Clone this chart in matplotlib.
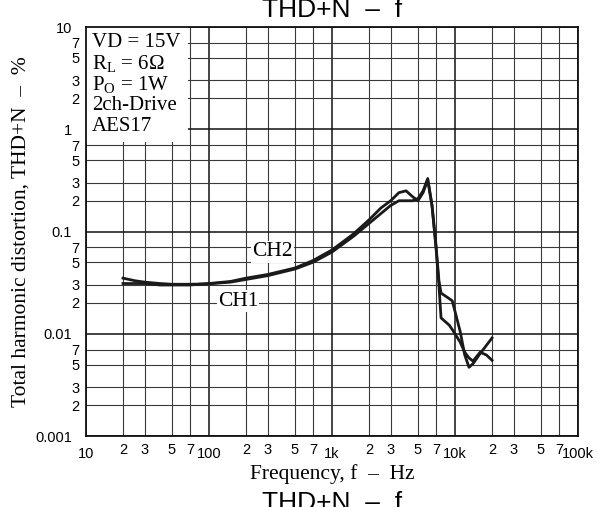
import matplotlib
matplotlib.use('Agg')
import matplotlib.pyplot as plt
from matplotlib.ticker import FixedLocator, FixedFormatter
from matplotlib.patches import Rectangle

plt.rcParams['mathtext.fontset'] = 'custom'
plt.rcParams['mathtext.rm'] = 'Liberation Serif'
plt.rcParams['mathtext.it'] = 'Liberation Serif:italic'

# data
freq = [20, 25, 30, 40, 50, 70, 100, 150, 200, 300, 500, 700, 1000, 1500, 2000,
        2500, 3000, 3500, 4000, 4500, 5000, 5500, 6000, 6500, 7000, 7400, 7700,
        9000, 9500, 11000, 12000, 13000, 14000, 16000, 18000, 20000]
ch1 = [0.035, 0.033, 0.032, 0.031, 0.0305, 0.0305, 0.0308, 0.032, 0.034, 0.037,
       0.043, 0.05, 0.063, 0.09, 0.12, 0.15, 0.18, 0.2, 0.2, 0.2, 0.21, 0.25,
       0.33, 0.18, 0.074, 0.033, 0.025, 0.022, 0.021, 0.0106, 0.0062, 0.0047,
       0.0051, 0.0064, 0.0077, 0.0091]
ch2 = [0.031, 0.031, 0.031, 0.030, 0.030, 0.030, 0.031, 0.0325, 0.035, 0.038,
       0.044, 0.052, 0.066, 0.095, 0.13, 0.17, 0.2, 0.24, 0.25, 0.22, 0.2, 0.24,
       0.32, 0.18, 0.07, 0.03, 0.0143, 0.0121, 0.011, 0.0083, 0.0066, 0.0058,
       0.0054, 0.0066, 0.0062, 0.0055]

x_major = [10, 100, 1000, 10000, 100000]
x_major_labels = ['10', '100', '1k', '10k', '100k']
x_minor = [m * d for d in [10, 100, 1000, 10000] for m in (2, 3, 5, 7)]
x_minor_labels = ['2', '3', '5', '7'] * 4
y_major = [0.001, 0.01, 0.1, 1, 10]
y_major_labels = ['0.001', '0.01', '0.1', '1', '10']
y_minor = [m * d for d in [0.001, 0.01, 0.1, 1] for m in (2, 3, 5, 7)]
y_minor_labels = ['2', '3', '5', '7'] * 4

conditions = ['VD = 15V', r'R$_\mathrm{L}$ = 6Ω', r'P$_\mathrm{O}$ = 1W',
              '2ch-Drive', 'AES17']

sans = 'Liberation Sans'
serif = 'Liberation Serif'

fig = plt.figure(figsize=(6.08, 5.07), dpi=100)
ax = fig.add_axes([0.1414, 0.140, 0.8093, 0.8067])
ax.set_xscale('log')
ax.set_yscale('log')
ax.set_xlim(10, 100000)
ax.set_ylim(0.001, 10)

ax.xaxis.set_major_locator(FixedLocator(x_major))
ax.xaxis.set_major_formatter(FixedFormatter(x_major_labels))
ax.xaxis.set_minor_locator(FixedLocator(x_minor))
ax.xaxis.set_minor_formatter(FixedFormatter(x_minor_labels))
ax.yaxis.set_major_locator(FixedLocator(y_major))
ax.yaxis.set_major_formatter(FixedFormatter(y_major_labels))
ax.yaxis.set_minor_locator(FixedLocator(y_minor))
ax.yaxis.set_minor_formatter(FixedFormatter(y_minor_labels))

ax.tick_params(which='both', length=0, labelsize=10.5)
ax.tick_params(axis='x', which='major', pad=8)
ax.tick_params(axis='x', which='minor', pad=5)
ax.tick_params(axis='y', which='major', pad=10)
ax.tick_params(axis='y', which='minor', pad=4.5)
for lab in ax.get_xticklabels(which='both') + ax.get_yticklabels(which='both'):
    lab.set_family(sans)

ax.grid(which='major', color='#111111', lw=1.1)
ax.grid(which='minor', color='#3a3a3a', lw=0.8)
for s in ax.spines.values():
    s.set_linewidth(1.3)
    s.set_color('#111111')
    s.set_zorder(5)

# white box for the test conditions
ax.add_patch(Rectangle((0, 0.719), 0.207, 0.281, transform=ax.transAxes,
                       facecolor='white', edgecolor='none', zorder=2))
for i, t in enumerate(conditions):
    ax.text(0.012, 0.961 - i * 0.0513, t, transform=ax.transAxes, family=serif,
            fontsize=15, va='center', ha='left', zorder=3)

ax.plot(freq, ch1, color='#1a1a1a', lw=2.0, zorder=4)
ax.plot(freq, ch2, color='#1a1a1a', lw=2.0, zorder=4)

ax.text(0.379, 0.45, 'CH2', transform=ax.transAxes, family=serif, fontsize=15.5,
        ha='center', va='center', zorder=3,
        bbox=dict(facecolor='white', edgecolor='none', pad=1))
ax.text(0.309, 0.33, 'CH1', transform=ax.transAxes, family=serif, fontsize=15.5,
        ha='center', va='center', zorder=3,
        bbox=dict(facecolor='white', edgecolor='none', pad=1))

ax.set_xlabel('Frequency, f  –  Hz', family=serif, fontsize=15.5, labelpad=2)
ax.set_ylabel('Total harmonic distortion, THD+N  –  %', family=serif,
              fontsize=15.5, labelpad=3)

fig.text(0.546, 1 - 17 / 507, 'THD+N  –  f', family=sans, fontsize=19,
         ha='center', va='baseline')
fig.text(0.546, 1 - 491 / 507, 'THD+N  –  f', family=sans, fontsize=19,
         ha='center', va='top')

fig.savefig('out.png', dpi=100)
